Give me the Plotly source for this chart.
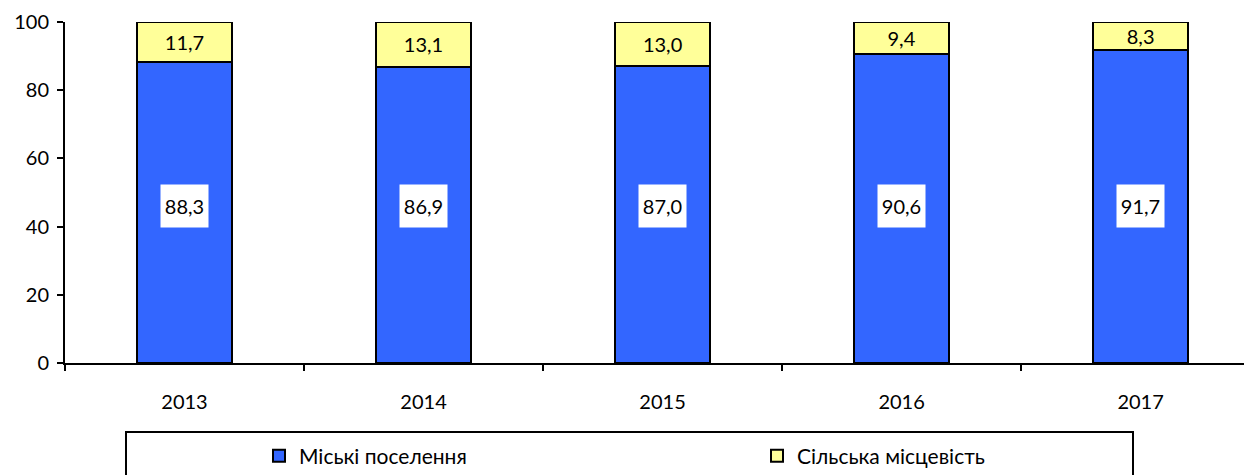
import plotly.graph_objects as go

years = ["2013", "2014", "2015", "2016", "2017"]
urban = [88.3, 86.9, 87.0, 90.6, 91.7]
rural = [11.7, 13.1, 13.0, 9.4, 8.3]
urban_name = "Міські поселення"
rural_name = "Сільська місцевість"

FONT = "Lato"
FS = 20
OFF = 8  # default page body margin of the written html
W, H = 1252 - OFF, 475 - OFF
ML, MR, MT, MB = 65 - OFF, 0, 22 - OFF, 112
PW = W - ML - MR
PH = H - MT - MB
LABEL_Y = 46  # vertical anchor of the white value boxes (axis units)


def fmt(v):
    return f"{v:.1f}".replace(".", ",")


fig = go.Figure()
fig.add_trace(go.Bar(
    x=years, y=urban, name=urban_name,
    marker=dict(color="#3366FF", line=dict(color="black", width=2)),
    width=0.4, legend="legend",
))
fig.add_trace(go.Bar(
    x=years, y=rural, name=rural_name,
    marker=dict(color="#FFFF99", line=dict(color="black", width=2)),
    width=0.4, legend="legend2",
    text=[fmt(v) for v in rural],
    textposition="inside", insidetextanchor="middle",
    textfont=dict(color="black", size=FS, family=FONT),
    constraintext="none",
))

for i, v in enumerate(urban):
    fig.add_annotation(
        x=i, y=LABEL_Y, xref="x", yref="y",
        text=fmt(v), showarrow=False,
        bgcolor="white", borderpad=4, width=39, height=34,
        font=dict(color="black", size=FS, family=FONT),
    )


# page pixel -> paper coordinates
def px_x(p):
    return (p - OFF - ML) / PW


def px_y(p):
    return (H - MB - (p - OFF)) / PH


fig.add_shape(type="rect", xref="paper", yref="paper",
              x0=px_x(126), x1=px_x(1133), y0=px_y(520), y1=px_y(432),
              line=dict(color="black", width=2), fillcolor="rgba(0,0,0,0)")

leg_common = dict(orientation="h", xanchor="left", yanchor="middle",
                  bgcolor="rgba(0,0,0,0)", itemwidth=30,
                  font=dict(size=21, family=FONT))

fig.update_layout(
    width=W, height=H,
    margin=dict(l=ML, r=MR, t=MT, b=MB, autoexpand=False),
    barmode="stack",
    plot_bgcolor="white", paper_bgcolor="white",
    font=dict(family=FONT, size=FS, color="black"),
    showlegend=True,
    legend=dict(x=px_x(259), y=px_y(456), **leg_common),
    legend2=dict(x=px_x(757), y=px_y(456), **leg_common),
    xaxis=dict(
        type="category",
        range=[-0.5, 4.466], showline=True, linecolor="black", linewidth=2,
        ticks="outside", ticklen=6, tickwidth=2, tickcolor="black",
        tickson="boundaries", showgrid=False, ticklabelstandoff=20,
        tickfont=dict(size=FS, family=FONT),
    ),
    yaxis=dict(
        range=[0, 100], dtick=20, showline=True, linecolor="black", linewidth=2,
        ticks="outside", ticklen=6, tickwidth=2, tickcolor="black",
        showgrid=False, zeroline=False, ticklabelstandoff=4,
        tickfont=dict(size=FS, family=FONT),
    ),
)

fig.write_html("out.html")
